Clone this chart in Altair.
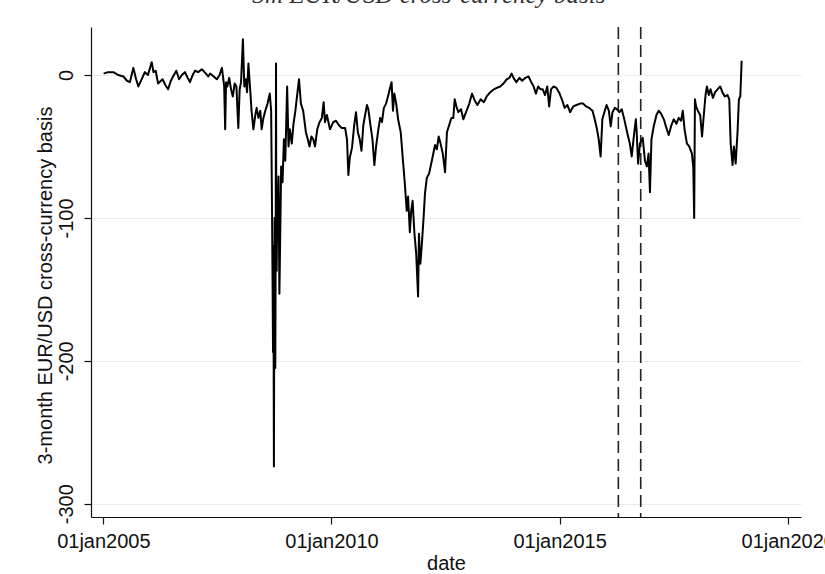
import altair as alt
import pandas as pd

# 3-month EUR/USD cross-currency basis (bp), observation dates and values
dates = [
    "2005-01-03", "2005-02-06", "2005-03-22", "2005-05-01", "2005-06-10", "2005-07-09",
    "2005-08-01", "2005-08-29", "2005-09-20", "2005-10-08", "2005-11-03", "2005-11-29",
    "2005-12-24", "2006-01-23", "2006-02-06", "2006-02-24", "2006-03-15", "2006-04-20",
    "2006-05-12", "2006-06-03", "2006-06-25", "2006-07-13", "2006-08-08", "2006-08-30",
    "2006-09-21", "2006-10-16", "2006-11-07", "2006-11-25", "2006-12-17", "2007-01-05",
    "2007-01-30", "2007-02-28", "2007-04-02", "2007-04-20", "2007-05-05", "2007-06-03",
    "2007-06-29", "2007-07-20", "2007-08-08", "2007-08-26", "2007-09-03", "2007-09-10",
    "2007-09-20", "2007-10-05", "2007-10-20", "2007-11-03", "2007-11-18", "2007-12-02",
    "2007-12-17", "2007-12-28", "2008-01-08", "2008-01-23", "2008-02-03", "2008-02-14",
    "2008-02-25", "2008-03-07", "2008-03-21", "2008-04-01", "2008-04-16", "2008-05-01",
    "2008-05-12", "2008-05-26", "2008-06-10", "2008-06-21", "2008-07-05", "2008-07-20",
    "2008-08-07", "2008-08-25", "2008-09-05", "2008-09-12", "2008-09-16", "2008-09-20",
    "2008-09-23", "2008-09-27", "2008-09-30", "2008-10-03", "2008-10-06", "2008-10-08",
    "2008-10-11", "2008-10-14", "2008-10-16", "2008-10-19", "2008-10-22", "2008-10-27",
    "2008-11-03", "2008-11-10", "2008-11-17", "2008-11-24", "2008-12-05", "2008-12-16",
    "2008-12-27",
    "2009-01-11", "2009-01-22", "2009-02-02", "2009-02-17", "2009-03-03", "2009-03-18",
    "2009-04-01", "2009-04-16", "2009-05-01", "2009-05-19", "2009-06-10", "2009-06-25",
    "2009-07-09", "2009-07-24", "2009-08-08", "2009-08-22", "2009-09-09", "2009-09-27",
    "2009-10-16", "2009-10-30", "2009-11-10", "2009-11-25", "2009-12-20", "2010-01-15",
    "2010-02-06", "2010-02-28", "2010-03-22", "2010-04-20", "2010-05-05", "2010-05-16",
    "2010-05-27", "2010-06-14", "2010-07-02", "2010-07-16", "2010-07-31", "2010-08-15",
    "2010-08-29", "2010-09-13", "2010-09-27", "2010-10-12", "2010-10-23", "2010-11-07",
    "2010-11-25", "2010-12-10", "2010-12-24", "2011-01-11", "2011-01-26", "2011-02-09",
    "2011-02-24", "2011-03-14", "2011-04-01", "2011-04-12", "2011-04-27", "2011-05-08",
    "2011-05-19", "2011-06-03", "2011-06-18", "2011-07-09", "2011-07-27", "2011-08-11",
    "2011-08-26", "2011-09-06", "2011-09-20", "2011-10-01", "2011-10-12", "2011-10-27",
    "2011-11-10", "2011-11-25", "2011-12-02", "2011-12-13", "2011-12-24", "2012-01-08",
    "2012-01-19", "2012-02-03", "2012-02-21", "2012-03-14", "2012-04-09", "2012-04-23",
    "2012-05-08", "2012-05-23", "2012-06-10", "2012-06-28", "2012-07-13", "2012-07-31",
    "2012-08-18", "2012-09-02", "2012-09-13", "2012-09-27", "2012-10-12", "2012-11-03",
    "2012-11-21", "2012-12-17", "2013-01-08", "2013-01-30", "2013-02-21", "2013-03-14",
    "2013-04-09", "2013-05-05", "2013-05-27", "2013-06-25", "2013-07-24", "2013-08-15",
    "2013-09-13", "2013-10-08", "2013-11-03", "2013-11-25", "2013-12-13", "2013-12-28",
    "2014-01-19", "2014-02-14", "2014-03-07", "2014-04-02", "2014-04-27", "2014-05-19",
    "2014-06-07", "2014-06-25", "2014-07-13", "2014-08-01", "2014-08-19", "2014-09-06",
    "2014-09-24", "2014-10-09", "2014-10-24", "2014-11-14", "2014-12-06", "2015-01-01",
    "2015-01-23", "2015-02-10", "2015-03-04", "2015-03-26", "2015-04-20", "2015-05-16",
    "2015-06-14", "2015-07-09", "2015-08-01", "2015-08-26", "2015-09-21", "2015-10-09",
    "2015-10-27", "2015-11-10", "2015-11-25", "2015-12-09", "2016-01-01", "2016-01-12",
    "2016-01-30", "2016-02-14", "2016-02-28", "2016-03-18", "2016-04-05", "2016-04-23",
    "2016-05-12", "2016-05-30", "2016-06-14", "2016-07-02", "2016-07-16", "2016-07-31",
    "2016-08-18", "2016-09-02", "2016-09-09", "2016-09-20", "2016-10-05", "2016-10-27",
    "2016-11-14", "2016-11-29", "2016-12-13", "2016-12-24", "2017-01-05", "2017-01-23",
    "2017-02-14", "2017-03-04", "2017-03-23", "2017-04-14", "2017-05-01", "2017-05-23",
    "2017-06-14", "2017-07-02", "2017-07-24", "2017-08-11", "2017-08-30", "2017-09-13",
    "2017-09-27", "2017-10-16", "2017-11-03", "2017-11-25", "2017-12-06", "2017-12-13",
    "2017-12-19", "2017-12-28", "2018-01-11", "2018-01-30", "2018-02-14", "2018-02-28",
    "2018-03-14", "2018-03-25", "2018-04-09", "2018-04-23", "2018-05-12", "2018-05-30",
    "2018-06-18", "2018-07-09", "2018-07-27", "2018-08-15", "2018-09-06", "2018-09-20",
    "2018-10-01", "2018-10-16", "2018-10-27", "2018-11-10", "2018-11-25", "2018-12-06",
    "2018-12-17", "2018-12-28",
]

basis = [
    1, 2, 2, 0, -1, -4,
    -5, 5, -3, -8, -3, 2,
    0, 9, 2, 3, -6, -3,
    -7, -10, -4, -1, 3, -3,
    0, 2, -2, -5, 0, 3,
    2, 4, 1, -1, 1, -1,
    -3, 0, 5, -8, -38, -5,
    -8, -2, -10, -15, -6, -8,
    -37, -10, -5, 25, -8, -3,
    -12, 8, -10, -25, -38, -28,
    -23, -30, -25, -38, -30, -25,
    -20, -13, -25, -95, -140, -194,
    -120, -274, -160, -100, -180, -205,
    -130, 8, -95, -137, -110, -96,
    -71, -153, -110, -64, -75, -45,
    -60,
    -8, -50, -38, -48, -34, -25,
    -14, -3, -20, -25, -40, -45,
    -50, -43, -45, -50, -38, -33,
    -30, -19, -33, -28, -38, -33,
    -32, -35, -37, -37, -45, -70,
    -58, -51, -35, -26, -40, -45,
    -53, -35, -28, -21, -24, -34,
    -45, -63, -50, -38, -30, -33,
    -23, -20, -14, -10, -5, -25,
    -13, -20, -31, -40, -60, -76,
    -95, -85, -110, -95, -88, -111,
    -125, -155, -111, -132, -120, -100,
    -83, -72, -69, -60, -49, -52,
    -43, -48, -55, -68, -40, -35,
    -30, -30, -17, -22, -26, -24,
    -31, -25, -20, -13, -18, -21,
    -17, -19, -15, -12, -10, -9,
    -8, -6, -3, -2, 1, -2,
    -5, -2, -4, -2, -1, -5,
    -8, -13, -8, -10, -10, -14,
    -8, -22, -10, -8, -9, -13,
    -18, -23, -21, -26, -22, -21,
    -20, -20, -22, -23, -25, -31,
    -38, -45, -57, -31, -24, -21,
    -25, -36, -26, -23, -24, -26,
    -24, -30, -36, -43, -48, -57,
    -42, -31, -40, -62, -48, -44,
    -60, -64, -55, -82, -45, -36,
    -28, -25, -27, -31, -36, -42,
    -35, -31, -34, -30, -32, -25,
    -38, -48, -50, -55, -65, -100,
    -17, -22, -25, -28, -43, -28,
    -14, -8, -14, -10, -16, -12,
    -10, -8, -12, -15, -14, -17,
    -48, -63, -50, -62, -40, -17,
    -15, 10,
]

# Two event dates marked with dashed vertical lines
event_dates = ["2016-04-15", "2016-10-11"]

y_ticks = [0, -100, -200, -300]
x_tick_years = [2005, 2010, 2015, 2020]
title_text = "3m EUR/USD cross-currency basis"

series = pd.DataFrame({"date": dates, "basis": basis})
events = pd.DataFrame({"date": event_dates})
heading = pd.DataFrame({"t": [title_text]})

x_scale = alt.Scale(
    type="utc",
    domain=[
        alt.DateTime(year=2004, month=9, date=24, utc=True),
        alt.DateTime(year=2020, month=4, date=16, utc=True),
    ],
)
y_scale = alt.Scale(domain=[-309.3, 33.6], nice=False, zero=False)

x_axis = alt.Axis(
    values=[alt.DateTime(year=yr, month=1, date=1, utc=True) for yr in x_tick_years],
    labelExpr="'01jan' + utcFormat(datum.value, '%Y')",
    grid=False,
    tickSize=7,
    labelPadding=7,
    labelBaseline="top",
    title="date",
    titleBaseline="alphabetic",
    titleY=52,
)

# Plain hyphen for negative tick labels
y_axis = alt.Axis(
    values=y_ticks,
    labelExpr="datum.value < 0 ? '-' + abs(datum.value) : '' + datum.value",
    grid=True,
    gridColor="#e6eef2",
    gridWidth=1,
    tickSize=7,
    labelAngle=270,
    labelAlign="center",
    labelBaseline="bottom",
    labelPadding=8,
    title="3-month EUR/USD cross-currency basis",
    titleAngle=270,
    titleAlign="center",
    titleBaseline="bottom",
    titleX=-36,
    titleY=258,
)

rules = alt.Chart(events).mark_rule(
    color="#222222", strokeWidth=1.6, strokeDash=[12, 6]
).encode(x=alt.X("date:T", scale=x_scale, axis=x_axis))

line = alt.Chart(series).mark_line(
    color="black", strokeWidth=2.0, strokeJoin="round"
).encode(
    x=alt.X("date:T", scale=x_scale, axis=x_axis),
    y=alt.Y("basis:Q", scale=y_scale, axis=y_axis),
)

# Heading sits above the top edge of the page, only its lower part shows
top_title = alt.Chart(heading).mark_text(
    font="Liberation Serif",
    fontStyle="italic",
    fontSize=25,
    align="center",
    baseline="alphabetic",
    color="#333333",
).encode(x=alt.value(338), y=alt.value(-24), text="t:N")

chart = (
    alt.layer(rules, line, top_title)
    .properties(
        width=710,
        height=490,
        autosize=alt.AutoSizeParams(type="none"),
        padding={"left": 91, "top": 27, "right": 24, "bottom": 57},
        background="white",
    )
    .configure_view(strokeWidth=0)
    .configure_axis(
        domainColor="#111111",
        domainWidth=1.2,
        tickColor="#111111",
        tickWidth=1.2,
        labelFont="Liberation Sans",
        labelFontSize=20,
        labelColor="#111111",
        titleFont="Liberation Sans",
        titleFontSize=20,
        titleFontWeight="normal",
        titleColor="#111111",
    )
)

chart.save("out.html", embed_options={"renderer": "svg", "actions": False})
